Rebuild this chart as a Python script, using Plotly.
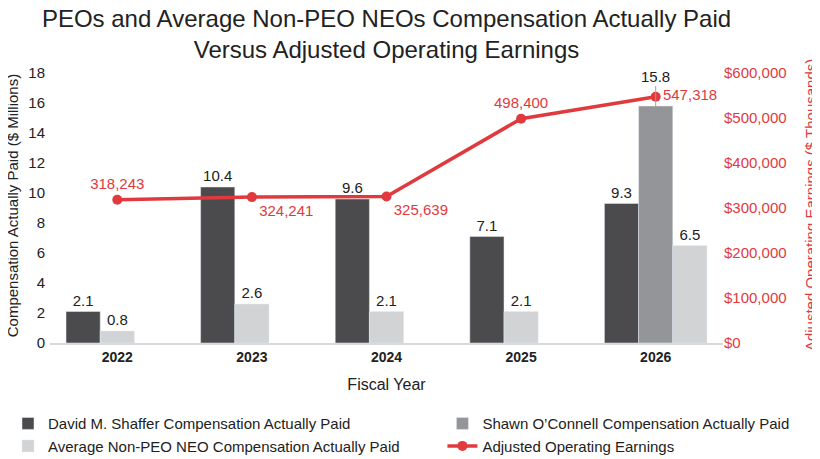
import plotly.graph_objects as go

years = ["2022", "2023", "2024", "2025", "2026"]
shaffer = [2.1, 10.4, 9.6, 7.1, 9.3]
oconnell = [None, None, None, None, 15.8]
avg_neo = [0.8, 2.6, 2.1, 2.1, 6.5]
earnings = [318243, 324241, 325639, 498400, 547318]

FONT = "Liberation Sans, Arial, sans-serif"
RED = "#e03a3e"
DARK = "#4b4b4d"
MID = "#939598"
LIGHT = "#d1d3d4"

W = 0.254  # bar width in category units
# light bar sits in the middle slot unless there is a second PEO bar that year
light_offset = [W / 2 if v is not None else -W / 2 for v in oconnell]

fig = go.Figure()

fig.add_trace(go.Bar(x=years, y=shaffer, name="David M. Shaffer Compensation Actually Paid",
                     marker=dict(color=DARK), width=W, offset=-1.5 * W, legend="legend",
                     text=[f"{v:.1f}" for v in shaffer], textposition="outside",
                     textfont=dict(color="#222", size=15), cliponaxis=False))
fig.add_trace(go.Bar(x=years, y=oconnell, name="Shawn O\u2019Connell Compensation Actually Paid",
                     marker=dict(color=MID), width=W, offset=-W / 2, legend="legend2"))
fig.add_trace(go.Bar(x=years, y=avg_neo, name="Average Non-PEO NEO Compensation Actually Paid",
                     marker=dict(color=LIGHT), width=W, offset=light_offset, legend="legend",
                     text=[f"{v:.1f}" for v in avg_neo], textposition="outside",
                     textfont=dict(color="#222", size=15), cliponaxis=False))
fig.add_trace(go.Scatter(x=years, y=earnings, name="Adjusted Operating Earnings", yaxis="y2",
                         legend="legend2",
                         mode="lines+markers+text", line=dict(color=RED, width=3.5),
                         marker=dict(color=RED, size=10),
                         text=[f"{v:,}" for v in earnings],
                         textposition=["top center", "bottom right", "bottom right", "top center", "middle right"],
                         textfont=dict(color=RED, size=15), cliponaxis=False))

# O'Connell label sits above the earnings marker with a leader line
# (category index used for x, since numeric-looking year strings get read as numbers)
for i, v in enumerate(oconnell):
    if v is not None:
        fig.add_annotation(x=i, y=v, text=f"{v:.1f}", showarrow=True, arrowhead=0,
                           arrowcolor="#a0a0a0", arrowwidth=1, ax=0, ay=-30,
                           font=dict(size=15, color="#222"))

# y axis titles as annotations (axis titles misplace when margins can't autoexpand)
fig.add_annotation(text="Compensation Actually Paid ($ Millions)", xref="paper", yref="paper",
                   x=-0.0565, y=0.51, xanchor="center", yanchor="middle", textangle=-90,
                   showarrow=False, font=dict(size=15, color="#222"))
fig.add_annotation(text="Adjusted Operating Earnings ($ Thousands)", xref="paper", yref="paper",
                   x=1.129, y=0.51, xanchor="center", yanchor="middle", textangle=-90,
                   showarrow=False, font=dict(size=15, color=RED))

leg = dict(orientation="v", yref="container", xref="container", y=0.115, yanchor="top",
           xanchor="left", traceorder="normal", font=dict(size=15, color="#222"),
           itemwidth=30, tracegroupgap=0, bgcolor="rgba(0,0,0,0)")

# page body adds an 8px margin, so the figure is drawn 8px smaller
fig.update_layout(
    width=812, height=451,
    barmode="overlay",
    paper_bgcolor="white", plot_bgcolor="white",
    font=dict(family=FONT, color="#222", size=14),
    margin=dict(l=42, r=97, t=65, b=116, autoexpand=False),
    title=dict(text="PEOs and Average Non-PEO NEOs Compensation Actually Paid<br>Versus Adjusted Operating Earnings",
               x=0.5, xref="paper", y=0.958, yanchor="middle", font=dict(size=24, color="#222")),
    xaxis=dict(type="category", range=[-0.5, len(years) - 0.5], showline=True,
               linecolor="#d9d9d9", linewidth=1.5, ticks="",
               tickfont=dict(size=14, color="#222"),
               tickprefix="<b>", ticksuffix="</b>",
               title=dict(text="Fiscal Year", font=dict(size=16))),
    yaxis=dict(range=[0, 18], dtick=2, showgrid=False, zeroline=False, showline=False,
               tickfont=dict(size=15), ticklabelstandoff=4),
    yaxis2=dict(range=[0, 600000], dtick=100000, overlaying="y", side="right", showgrid=False,
                zeroline=False, tickprefix="$", tickformat=",d", tickfont=dict(size=15, color=RED)),
    legend=dict(leg, x=0.0),
    legend2=dict(leg, x=0.535),
    showlegend=True,
)

fig.write_html("out.html")
